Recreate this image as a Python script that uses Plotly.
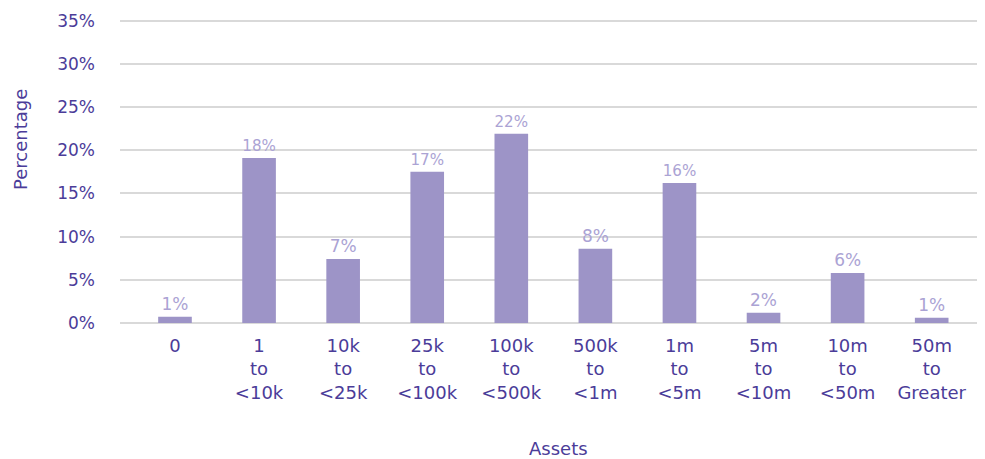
import plotly.graph_objects as go

categories = ["0", "1<br>to<br><10k", "10k<br>to<br><25k", "25k<br>to<br><100k",
              "100k<br>to<br><500k", "500k<br>to<br><1m", "1m<br>to<br><5m",
              "5m<br>to<br><10m", "10m<br>to<br><50m", "50m<br>to<br>Greater"]
values = [0.73, 19.1, 7.4, 17.5, 21.9, 8.6, 16.2, 1.2, 5.8, 0.6]
labels = ["1%", "18%", "7%", "17%", "22%", "8%", "16%", "2%", "6%", "1%"]
y_ticks = [0, 5, 10, 15, 20, 25, 30, 35]
y_tick_text = [f"{v}%" for v in y_ticks]

FONT = "DejaVu Sans"
DARK = "#4b3c99"
LIGHT = "#aba3d4"
BAR = "#9d94c7"
GRID = "#d9d9d9"

fig = go.Figure(go.Bar(
    x=categories, y=values, text=labels, textposition="outside",
    textfont=dict(family=FONT, size=17, color=LIGHT),
    marker=dict(color=BAR, line=dict(width=0)),
    cliponaxis=False,
))

fig.update_layout(
    width=977, height=451,
    margin=dict(l=112, r=0, t=10, b=136, autoexpand=False),
    paper_bgcolor="white", plot_bgcolor="white",
    bargap=0.6, showlegend=False,
    font=dict(family=FONT, size=17, color=DARK),
    xaxis=dict(type="category", range=[-0.654, 9.634], showgrid=False,
               showline=False, ticks="", automargin=False, ticklabelstandoff=10,
               tickfont=dict(family=FONT, size=18, color=DARK)),
    yaxis=dict(range=[0, 35.3], tickvals=y_ticks, ticktext=y_tick_text,
               showgrid=True, gridcolor=GRID, gridwidth=2,
               zeroline=True, zerolinecolor=GRID, zerolinewidth=2,
               showline=False, ticks="", ticklabelstandoff=24, automargin=False,
               tickfont=dict(family=FONT, size=17, color=DARK)),
    annotations=[
        dict(text="Percentage", xref="paper", yref="paper", x=-0.1156, y=0.60,
             textangle=-90, showarrow=False, xanchor="center", yanchor="middle",
             font=dict(family=FONT, size=18, color=DARK)),
        dict(text="Assets", xref="paper", yref="paper", x=0.507, y=-0.41,
             showarrow=False, xanchor="center", yanchor="middle",
             font=dict(family=FONT, size=18, color=DARK)),
    ],
)

fig.write_html("out.html")
